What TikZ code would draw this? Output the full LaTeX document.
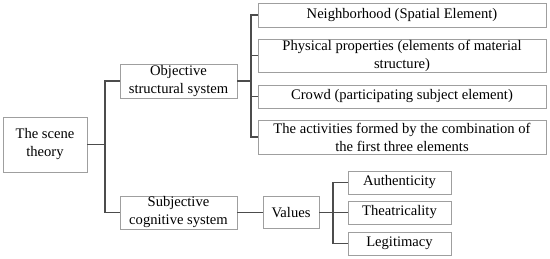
\documentclass[tikz,border=0pt]{standalone}
\usepackage{fontspec}
\setmainfont{Liberation Serif}
\usetikzlibrary{positioning,calc}

\begin{document}
\begin{tikzpicture}[x=1pt,y=-1pt,box/.style={draw=gray!75,fill=white,align=center,inner sep=0pt,font=\fontsize{14.6}{18}\selectfont},link/.style={draw=black!70,line width=1.3pt}]
\useasboundingbox (0,0) rectangle (550,259);
% root and first level
\node[box,minimum width=84pt,minimum height=55pt] (scene) at (45,144.5) {The scene\\theory};
\node[box,minimum width=117pt,minimum height=34pt] (obj) at (178.5,81) {Objective\\structural system};
\node[box,minimum width=117pt,minimum height=33pt] (subj) at (178.5,212.5) {Subjective\\cognitive system};
% objective elements
\node[box,minimum width=288pt,minimum height=24pt] (hood) at (402,15) {Neighborhood (Spatial Element)};
\node[box,minimum width=288pt,minimum height=33pt] (phys) at (402,55.5) {Physical properties (elements of material\\structure)};
\node[box,minimum width=288pt,minimum height=23pt] (crowd) at (402,96.5) {Crowd (participating subject element)};
\node[box,minimum width=288pt,minimum height=34pt] (act) at (402,137) {The activities formed by the combination of\\the first three elements};
% subjective values
\node[box,minimum width=56pt,minimum height=32pt] (values) at (291,212.5) {Values};
\node[box,minimum width=103pt,minimum height=23pt] (auth) at (399.5,182.5) {Authenticity};
\node[box,minimum width=103pt,minimum height=23pt] (theat) at (399.5,212.5) {Theatricality};
\node[box,minimum width=103pt,minimum height=23pt] (legit) at (399.5,243.5) {Legitimacy};
% trunks
\coordinate (tA) at (105,0);
\coordinate (tB) at (251,0);
\coordinate (tC) at (333,0);
\draw[link] (scene.east) -- (scene.east -| tA);
\draw[link] (obj.west) -| (tA |- subj.west) -- (subj.west);
\draw[link] (obj.east) -- (obj.east -| tB);
\draw[link] (hood.west) -| (tB |- act.west) -- (act.west);
\foreach \n in {phys,crowd} \draw[link] (\n.west) -- (\n.west -| tB);
\draw[link] (subj.east) -- (values.west);
\draw[link] (values.east) -- (values.east -| tC);
\draw[link] (auth.west) -| (tC |- legit.west) -- (legit.west);
\draw[link] (theat.west) -- (theat.west -| tC);
\end{tikzpicture}
\end{document}
